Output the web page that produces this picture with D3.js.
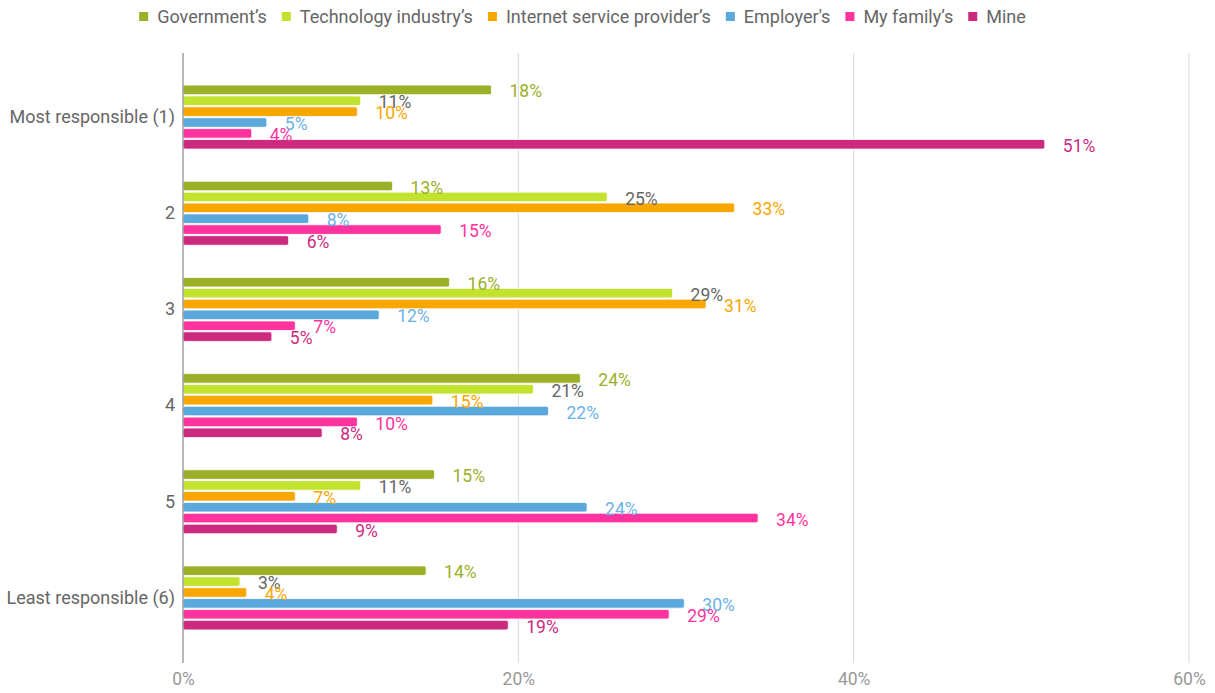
<!DOCTYPE html>
<html><head><meta charset="utf-8">
<script src="https://cdn.jsdelivr.net/npm/d3@7"></script>
<style>body{margin:0;background:#fff;font-family:Roboto,"Noto Sans",sans-serif;}</style>
</head><body><svg id="c" width="1215" height="693"></svg>
<script>
const categories = ["Most responsible (1)", "2", "3", "4", "5", "Least responsible (6)"];
const seriesNames = ["Government\u2019s", "Technology industry\u2019s", "Internet service provider\u2019s", "Employer's", "My family\u2019s", "Mine"];
const government = [18.4, 12.5, 15.9, 23.7, 15.0, 14.5];
const technology = [10.6, 25.3, 29.2, 20.9, 10.6, 3.4];
const isp        = [10.4, 32.9, 31.2, 14.9, 6.7, 3.8];
const employer   = [5.0, 7.5, 11.7, 21.8, 24.1, 29.9];
const family     = [4.1, 15.4, 6.7, 10.4, 34.3, 29.0];
const mine       = [51.4, 6.3, 5.3, 8.3, 9.2, 19.4];
const valueLabels = [
  ["18%","13%","16%","24%","15%","14%"],
  ["11%","25%","29%","21%","11%","3%"],
  ["10%","33%","31%","15%","7%","4%"],
  ["5%","8%","12%","22%","24%","30%"],
  ["4%","15%","7%","10%","34%","29%"],
  ["51%","6%","5%","8%","9%","19%"]
];
const ticks = [0, 20, 40, 60];
const tickLabels = ["0%", "20%", "40%", "60%"];

const seriesValues = [government, technology, isp, employer, family, mine];
const colors = ["#9bb027", "#c3e22e", "#f8a600", "#5ba8dc", "#ff339e", "#cc2a7f"];
const labelColors = ["#9bb027", "#666666", "#f8a600", "#6ab2e6", "#ff339e", "#cc2a7f"];

const svg = d3.select("#c");
const x = d3.scaleLinear().domain([0, 60]).range([183, 1189]);
const y = d3.scaleBand().domain(categories).range([69, 646]).padding(0);
const inner = d3.scaleBand().domain(d3.range(6)).range([-32, 32]).paddingInner(0.12);

// gridlines
svg.append("g").selectAll("line").data(ticks.slice(1)).join("line")
  .attr("x1", d => x(d)).attr("x2", d => x(d)).attr("y1", 53).attr("y2", 663)
  .attr("stroke", "#d9d9d9").attr("stroke-width", 1);

// x tick labels
const xAxis = d3.axisBottom(x).tickValues(ticks).tickFormat((d, i) => tickLabels[i]).tickSize(0).tickPadding(0);
const gx = svg.append("g").attr("transform", "translate(0,669)").call(xAxis);
gx.select(".domain").remove();
gx.selectAll("text").attr("font-size", 17.5).attr("fill", "#999").attr("font-family", "Roboto").attr("dy", "0.9em");

// bars
categories.forEach((cat, ci) => {
  const cy = y(cat) + y.bandwidth() / 2;
  seriesValues.forEach((vals, si) => {
    const by = cy + inner(si);
    svg.append("rect")
      .attr("x", x(0)).attr("y", by)
      .attr("width", x(vals[ci]) - x(0)).attr("height", inner.bandwidth())
      .attr("rx", 2).attr("fill", colors[si]).attr("stroke", "#fff").attr("stroke-width", 0.8);
  });
});
// labels on top
categories.forEach((cat, ci) => {
  const cy = y(cat) + y.bandwidth() / 2;
  seriesValues.forEach((vals, si) => {
    const by = cy + inner(si) + inner.bandwidth() / 2;
    svg.append("text")
      .attr("x", x(vals[ci]) + 18).attr("y", by + 1.5).attr("dy", "0.35em")
      .attr("font-size", 17.5).attr("fill", labelColors[si]).attr("font-family", "Roboto")
      .text(valueLabels[si][ci]);
  });
});

// y axis line
svg.append("line").attr("x1", x(0)).attr("x2", x(0)).attr("y1", 53).attr("y2", 663)
  .attr("stroke", "#888").attr("stroke-width", 1.2);

// category labels
const yAxis = d3.axisLeft(y).tickSize(0).tickPadding(8);
const gy = svg.append("g").attr("transform", `translate(${x(0)},0)`).call(yAxis);
gy.select(".domain").remove();
gy.selectAll("text").attr("font-size", 18).attr("fill", "#666").attr("font-family", "Roboto");

// legend
const lg = svg.append("g");
let cx = 0;
seriesNames.forEach((name, i) => {
  const g = lg.append("g");
  g.append("rect").attr("x", cx).attr("y", 12).attr("width", 9).attr("height", 9).attr("fill", colors[i]);
  const t = g.append("text").attr("x", cx + 18).attr("y", 17).attr("dy", "0.35em")
    .attr("font-size", 18).attr("fill", "#666").attr("font-family", "Roboto").text(name);
  const w = t.node().getComputedTextLength();
  cx += 18 + w + 15;
});
const totalW = cx - 15;
lg.attr("transform", `translate(${582.5 - totalW / 2},0)`);
</script></body></html>
